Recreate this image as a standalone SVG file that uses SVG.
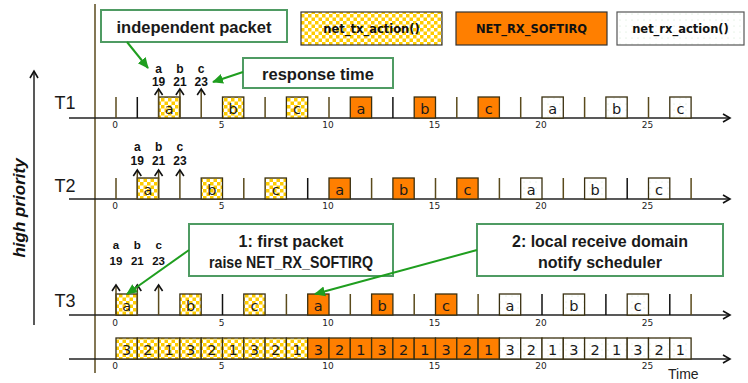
<svg xmlns="http://www.w3.org/2000/svg" width="748" height="383" viewBox="0 0 748 383">
<style>
.axis{stroke:#222;stroke-width:1.5;fill:none}
.tick{stroke:#5a4a1c;stroke-width:1.5}
.vline{stroke:#5a4a1c;stroke-width:1.5}
.up{stroke:#5a4a1c;stroke-width:1.5}
.bx{stroke:#3a3010;stroke-width:1.3}
.y{fill:url(#chk)}
.o{fill:#FF7F00}
.w{fill:url(#dots)}
.bt{font-family:"DejaVu Sans",sans-serif;font-size:14.5px;fill:#1a1a1a;text-anchor:middle}
.nt{font-family:"DejaVu Sans",sans-serif;font-size:14.5px;fill:#1a1a1a;text-anchor:middle}
.tl{font-family:"DejaVu Sans",sans-serif;font-size:9px;fill:#222;text-anchor:middle}
.row{font-family:"Liberation Sans",Arial,sans-serif;font-size:18px;fill:#1a1a1a;text-anchor:middle}
.lab{font-family:"Liberation Sans",Arial,sans-serif;font-size:12px;font-weight:bold;fill:#111;text-anchor:middle}
.cb{fill:#fff;stroke:#4f9b63;stroke-width:2}
.ct{font-family:"Liberation Sans",Arial,sans-serif;font-size:16.5px;font-weight:bold;fill:#1a1a1a;text-anchor:middle}
.ga{stroke:#1f9e1f;stroke-width:2;fill:none}
.lg{font-family:"DejaVu Sans",sans-serif;font-size:11.5px;font-weight:bold;fill:#111;text-anchor:middle}
</style>
<defs>
<pattern id="chk" width="7" height="7" patternUnits="userSpaceOnUse">
<rect width="7" height="7" fill="#fff"/>
<rect width="3.5" height="3.5" fill="#FFCC00"/>
<rect x="3.5" y="3.5" width="3.5" height="3.5" fill="#FFCC00"/>
</pattern>
<pattern id="dots" width="6" height="6" patternUnits="userSpaceOnUse">
<rect width="6" height="6" fill="#fff"/>
<circle cx="2" cy="2" r="0.5" fill="#c4e2c4"/>
</pattern>
<marker id="ah" markerWidth="10" markerHeight="10" refX="8" refY="5" orient="auto" markerUnits="userSpaceOnUse">
<path d="M1,1 L8,5 L1,9" fill="none" stroke="#111" stroke-width="1.6"/>
</marker>
<marker id="uh" markerWidth="10" markerHeight="10" refX="8" refY="5" orient="auto" markerUnits="userSpaceOnUse">
<path d="M2,1 L8,5 L2,9" fill="none" stroke="#111" stroke-width="1.6"/>
</marker>
<marker id="gh" markerWidth="12" markerHeight="12" refX="10" refY="6" orient="auto" markerUnits="userSpaceOnUse">
<path d="M0,1 L11,6 L0,11 Z" fill="#1f9e1f"/>
</marker>
</defs>
<rect width="748" height="383" fill="#fff"/>

<!-- priority arrow and label -->
<g id="priority">
<line x1="34" y1="325" x2="34" y2="71" class="axis" stroke-width="2" marker-end="url(#ah)"/>
<text x="0" y="0" transform="translate(25,208) rotate(-90)" font-family="Liberation Sans, Arial, sans-serif" font-size="17" font-weight="bold" font-style="italic" text-anchor="middle" fill="#111">high priority</text>
</g>

<!-- main vertical line -->
<line x1="95" y1="4" x2="95" y2="373" class="vline"/>

<!-- axes -->
<g id="axes">
<line x1="69" y1="118" x2="730" y2="118" class="axis" marker-end="url(#ah)"/>
<line x1="69" y1="199" x2="730" y2="199" class="axis" marker-end="url(#ah)"/>
<line x1="69" y1="315" x2="730" y2="315" class="axis" stroke="#666" marker-end="url(#ah)"/>
<line x1="69" y1="359" x2="730" y2="359" class="axis" marker-end="url(#ah)"/>
</g>

<!-- tick labels -->
<g id="ticklabels" class="tl">
<text x="115" y="128">0</text><text x="221.5" y="128">5</text><text x="328" y="128">10</text><text x="434.5" y="128">15</text><text x="541" y="128">20</text><text x="647.5" y="128">25</text>
<text x="115" y="209">0</text><text x="221.5" y="209">5</text><text x="328" y="209">10</text><text x="434.5" y="209">15</text><text x="541" y="209">20</text><text x="647.5" y="209">25</text>
<text x="115" y="326">0</text><text x="221.5" y="326">5</text><text x="328" y="326">10</text><text x="434.5" y="326">15</text><text x="541" y="326">20</text><text x="647.5" y="326">25</text>
<text x="115" y="369">0</text><text x="221.5" y="369">5</text><text x="328" y="369">10</text><text x="434.5" y="369">15</text><text x="541" y="369">20</text><text x="647.5" y="369">25</text>
</g>
<text x="668" y="379" font-family="Liberation Sans, Arial, sans-serif" font-size="14" fill="#222">Time</text>

<!-- row labels -->
<text class="row" x="65" y="109">T1</text>
<text class="row" x="65" y="192">T2</text>
<text class="row" x="65" y="307">T3</text>

<!-- ticks -->
<g id="ticks" class="tick">
<line x1="116" y1="97" x2="116" y2="118"/><line x1="137.3" y1="97" x2="137.3" y2="118" stroke="#111"/><line x1="265.1" y1="97" x2="265.1" y2="118"/><line x1="329" y1="97" x2="329" y2="118"/><line x1="392.9" y1="97" x2="392.9" y2="118" stroke="#111"/><line x1="456.8" y1="97" x2="456.8" y2="118"/><line x1="520.7" y1="97" x2="520.7" y2="118"/><line x1="584.6" y1="97" x2="584.6" y2="118"/><line x1="648.5" y1="97" x2="648.5" y2="118"/>
<line x1="116" y1="178" x2="116" y2="199"/><line x1="243.8" y1="178" x2="243.8" y2="199"/><line x1="307.7" y1="178" x2="307.7" y2="199" stroke="#111"/><line x1="371.6" y1="178" x2="371.6" y2="199"/><line x1="435.5" y1="178" x2="435.5" y2="199"/><line x1="499.4" y1="178" x2="499.4" y2="199"/><line x1="563.3" y1="178" x2="563.3" y2="199"/><line x1="627.2" y1="178" x2="627.2" y2="199" stroke="#111"/><line x1="691.1" y1="178" x2="691.1" y2="199"/>
<line x1="222.5" y1="294" x2="222.5" y2="315" stroke="#111"/><line x1="286.4" y1="294" x2="286.4" y2="315"/><line x1="350.3" y1="294" x2="350.3" y2="315"/><line x1="414.2" y1="294" x2="414.2" y2="315"/><line x1="478.1" y1="294" x2="478.1" y2="315"/><line x1="542" y1="294" x2="542" y2="315" stroke="#111"/><line x1="605.9" y1="294" x2="605.9" y2="315" stroke="#111"/><line x1="669.8" y1="294" x2="669.8" y2="315" stroke="#111"/><line x1="691.1" y1="294" x2="691.1" y2="315"/>
</g>

<!-- T1 boxes -->
<g id="t1-tx-a"><rect class="bx y" x="158.6" y="97" width="21.3" height="21"/><text class="bt" x="169.2" y="114">a</text></g>
<g id="t1-tx-b"><rect class="bx y" x="222.5" y="97" width="21.3" height="21"/><text class="bt" x="233.1" y="114">b</text></g>
<g id="t1-tx-c"><rect class="bx y" x="286.4" y="97" width="21.3" height="21"/><text class="bt" x="297" y="114">c</text></g>
<g id="t1-sirq-a"><rect class="bx o" x="350.3" y="97" width="21.3" height="21"/><text class="bt" x="360.9" y="114">a</text></g>
<g id="t1-sirq-b"><rect class="bx o" x="414.2" y="97" width="21.3" height="21"/><text class="bt" x="424.8" y="114">b</text></g>
<g id="t1-sirq-c"><rect class="bx o" x="478.1" y="97" width="21.3" height="21"/><text class="bt" x="488.7" y="114">c</text></g>
<g id="t1-rx-a"><rect class="bx w" x="542" y="97" width="21.3" height="21"/><text class="bt" x="552.6" y="114">a</text></g>
<g id="t1-rx-b"><rect class="bx w" x="605.9" y="97" width="21.3" height="21"/><text class="bt" x="616.5" y="114">b</text></g>
<g id="t1-rx-c"><rect class="bx w" x="669.8" y="97" width="21.3" height="21"/><text class="bt" x="680.4" y="114">c</text></g>

<!-- T2 boxes -->
<g id="t2-tx-a"><rect class="bx y" x="137.3" y="178" width="21.3" height="21"/><text class="bt" x="147.9" y="195">a</text></g>
<g id="t2-tx-b"><rect class="bx y" x="201.2" y="178" width="21.3" height="21"/><text class="bt" x="211.8" y="195">b</text></g>
<g id="t2-tx-c"><rect class="bx y" x="265.1" y="178" width="21.3" height="21"/><text class="bt" x="275.7" y="195">c</text></g>
<g id="t2-sirq-a"><rect class="bx o" x="329" y="178" width="21.3" height="21"/><text class="bt" x="339.6" y="195">a</text></g>
<g id="t2-sirq-b"><rect class="bx o" x="392.9" y="178" width="21.3" height="21"/><text class="bt" x="403.5" y="195">b</text></g>
<g id="t2-sirq-c"><rect class="bx o" x="456.8" y="178" width="21.3" height="21"/><text class="bt" x="467.4" y="195">c</text></g>
<g id="t2-rx-a"><rect class="bx w" x="520.7" y="178" width="21.3" height="21"/><text class="bt" x="531.3" y="195">a</text></g>
<g id="t2-rx-b"><rect class="bx w" x="584.6" y="178" width="21.3" height="21"/><text class="bt" x="595.2" y="195">b</text></g>
<g id="t2-rx-c"><rect class="bx w" x="648.5" y="178" width="21.3" height="21"/><text class="bt" x="659.1" y="195">c</text></g>

<!-- T3 boxes -->
<g id="t3-tx-a"><rect class="bx y" x="116" y="294" width="21.3" height="21"/><text class="bt" x="126.6" y="311">a</text></g>
<g id="t3-tx-b"><rect class="bx y" x="179.9" y="294" width="21.3" height="21"/><text class="bt" x="190.5" y="311">b</text></g>
<g id="t3-tx-c"><rect class="bx y" x="243.8" y="294" width="21.3" height="21"/><text class="bt" x="254.4" y="311">c</text></g>
<g id="t3-sirq-a"><rect class="bx o" x="307.7" y="294" width="21.3" height="21"/><text class="bt" x="318.3" y="311">a</text></g>
<g id="t3-sirq-b"><rect class="bx o" x="371.6" y="294" width="21.3" height="21"/><text class="bt" x="382.2" y="311">b</text></g>
<g id="t3-sirq-c"><rect class="bx o" x="435.5" y="294" width="21.3" height="21"/><text class="bt" x="446.1" y="311">c</text></g>
<g id="t3-rx-a"><rect class="bx w" x="499.4" y="294" width="21.3" height="21"/><text class="bt" x="510" y="311">a</text></g>
<g id="t3-rx-b"><rect class="bx w" x="563.3" y="294" width="21.3" height="21"/><text class="bt" x="573.9" y="311">b</text></g>
<g id="t3-rx-c"><rect class="bx w" x="627.2" y="294" width="21.3" height="21"/><text class="bt" x="637.8" y="311">c</text></g>

<!-- bottom bar -->
<g id="bar">
<rect class="bx y" x="116" y="338" width="21.3" height="21"/><rect class="bx y" x="137.3" y="338" width="21.3" height="21"/><rect class="bx y" x="158.6" y="338" width="21.3" height="21"/>
<rect class="bx y" x="179.9" y="338" width="21.3" height="21"/><rect class="bx y" x="201.2" y="338" width="21.3" height="21"/><rect class="bx y" x="222.5" y="338" width="21.3" height="21"/>
<rect class="bx y" x="243.8" y="338" width="21.3" height="21"/><rect class="bx y" x="265.1" y="338" width="21.3" height="21"/><rect class="bx y" x="286.4" y="338" width="21.3" height="21"/>
<rect class="bx o" x="307.7" y="338" width="21.3" height="21"/><rect class="bx o" x="329" y="338" width="21.3" height="21"/><rect class="bx o" x="350.3" y="338" width="21.3" height="21"/>
<rect class="bx o" x="371.6" y="338" width="21.3" height="21"/><rect class="bx o" x="392.9" y="338" width="21.3" height="21"/><rect class="bx o" x="414.2" y="338" width="21.3" height="21"/>
<rect class="bx o" x="435.5" y="338" width="21.3" height="21"/><rect class="bx o" x="456.8" y="338" width="21.3" height="21"/><rect class="bx o" x="478.1" y="338" width="21.3" height="21"/>
<rect class="bx w" x="499.4" y="338" width="21.3" height="21"/><rect class="bx w" x="520.7" y="338" width="21.3" height="21"/><rect class="bx w" x="542" y="338" width="21.3" height="21"/>
<rect class="bx w" x="563.3" y="338" width="21.3" height="21"/><rect class="bx w" x="584.6" y="338" width="21.3" height="21"/><rect class="bx w" x="605.9" y="338" width="21.3" height="21"/>
<rect class="bx w" x="627.2" y="338" width="21.3" height="21"/><rect class="bx w" x="648.5" y="338" width="21.3" height="21"/><rect class="bx w" x="669.8" y="338" width="21.3" height="21"/>
<g class="nt">
<text x="126.6" y="355">3</text><text x="147.9" y="355">2</text><text x="169.2" y="355">1</text>
<text x="190.5" y="355">3</text><text x="211.8" y="355">2</text><text x="233.1" y="355">1</text>
<text x="254.4" y="355">3</text><text x="275.7" y="355">2</text><text x="297" y="355">1</text>
<text x="318.3" y="355">3</text><text x="339.6" y="355">2</text><text x="360.9" y="355">1</text>
<text x="382.2" y="355">3</text><text x="403.5" y="355">2</text><text x="424.8" y="355">1</text>
<text x="446.1" y="355">3</text><text x="467.4" y="355">2</text><text x="488.7" y="355">1</text>
<text x="510" y="355">3</text><text x="531.3" y="355">2</text><text x="552.6" y="355">1</text>
<text x="573.9" y="355">3</text><text x="595.2" y="355">2</text><text x="616.5" y="355">1</text>
<text x="637.8" y="355">3</text><text x="659.1" y="355">2</text><text x="680.4" y="355">1</text>
</g>
</g>

<!-- arrival arrows -->
<g id="arrivals" class="up">
<line x1="158.6" y1="118" x2="158.6" y2="89" marker-end="url(#uh)"/>
<line x1="179.9" y1="118" x2="179.9" y2="89" marker-end="url(#uh)"/>
<line x1="201.2" y1="118" x2="201.2" y2="89" marker-end="url(#uh)"/>
<line x1="137.3" y1="199" x2="137.3" y2="170" marker-end="url(#uh)"/>
<line x1="158.6" y1="199" x2="158.6" y2="170" marker-end="url(#uh)"/>
<line x1="179.9" y1="199" x2="179.9" y2="170" marker-end="url(#uh)"/>
<line x1="116" y1="315" x2="116" y2="285" marker-end="url(#uh)"/>
<line x1="137.3" y1="315" x2="137.3" y2="285" marker-end="url(#uh)"/>
<line x1="158.6" y1="315" x2="158.6" y2="285" marker-end="url(#uh)"/>
</g>
<g id="arrival-labels" class="lab">
<text x="158.6" y="73">a</text><text x="179.9" y="73">b</text><text x="201.2" y="73">c</text>
<text x="158.6" y="86">19</text><text x="179.9" y="86">21</text><text x="201.2" y="86">23</text>
<text x="137.3" y="151">a</text><text x="158.6" y="151">b</text><text x="179.9" y="151">c</text>
<text x="137.3" y="165">19</text><text x="158.6" y="165">21</text><text x="179.9" y="165">23</text>
<g font-size="11.5"><text x="116" y="249">a</text><text x="137.3" y="249">b</text><text x="158.6" y="249">c</text>
<text x="116" y="265">19</text><text x="137.3" y="265">21</text><text x="158.6" y="265">23</text></g>
</g>

<!-- legend -->
<g id="legend-tx"><rect x="301" y="12" width="141" height="33" fill="url(#chk)" stroke="#333" stroke-width="1.2"/><text class="lg" x="371.5" y="33">net_tx_action()</text></g>
<g id="legend-sirq"><rect x="456" y="12" width="151" height="33" fill="#FF7F00" stroke="#333" stroke-width="1.2"/><text class="lg" x="531.5" y="33">NET_RX_SOFTIRQ</text></g>
<g id="legend-rx"><rect x="617" y="12" width="127" height="33" fill="url(#dots)" stroke="#555" stroke-width="1.2"/><text class="lg" x="680.5" y="33">net_rx_action()</text></g>

<!-- callouts -->
<g id="callout-independent"><rect class="cb" x="101" y="10" width="186" height="32"/><text class="ct" x="194" y="33">independent packet</text></g>
<g id="callout-response"><rect class="cb" x="243" y="58" width="150" height="30"/><text class="ct" x="318" y="80">response time</text></g>
<g id="callout-first"><rect class="cb" x="189" y="224" width="204" height="52"/><text class="ct" x="291" y="247" textLength="105" lengthAdjust="spacingAndGlyphs">1: first packet</text><text class="ct" x="291" y="268" textLength="164" lengthAdjust="spacingAndGlyphs">raise NET_RX_SOFTIRQ</text></g>
<g id="callout-local"><rect class="cb" x="477" y="224" width="246" height="52"/><text class="ct" x="600" y="247" textLength="176" lengthAdjust="spacingAndGlyphs">2: local receive domain</text><text class="ct" x="600" y="268" textLength="124" lengthAdjust="spacingAndGlyphs">notify scheduler</text></g>

<!-- connectors -->
<g id="connectors" class="ga">
<line x1="127" y1="42" x2="148" y2="68" marker-end="url(#gh)"/>
<line x1="243" y1="72" x2="213" y2="82" marker-end="url(#gh)"/>
<line x1="189" y1="250" x2="127" y2="294" marker-end="url(#gh)"/>
<line x1="477" y1="250" x2="315" y2="294" marker-end="url(#gh)"/>
</g>
</svg>
